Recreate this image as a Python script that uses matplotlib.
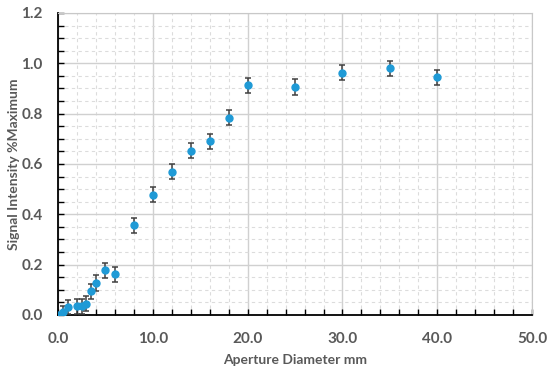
import matplotlib
matplotlib.use("Agg")
import matplotlib.pyplot as plt
from matplotlib.ticker import MultipleLocator, FormatStrFormatter

aperture_mm = [0, 0.5, 1.0, 2.0, 2.5, 3.0, 3.5, 4.0, 5.0, 6.0, 8.0, 10.0, 12.0, 14.0, 16.0, 18.0, 20.0, 25.0, 30.0, 35.0, 40.0]
intensity = [0.0, 0.01, 0.032, 0.035, 0.035, 0.044, 0.095, 0.127, 0.178, 0.162, 0.357, 0.477, 0.570, 0.652, 0.690, 0.783, 0.913, 0.906, 0.963, 0.980, 0.944]
error = [0.0, 0.025, 0.028, 0.03, 0.03, 0.03, 0.03, 0.03, 0.03, 0.03, 0.03, 0.03, 0.03, 0.03, 0.03, 0.03, 0.03, 0.03, 0.03, 0.03, 0.03]

plt.rcParams['font.family'] = ['Lato', 'DejaVu Sans']
txt = '#595959'

fig = plt.figure(figsize=(5.5, 3.71), dpi=100)
ax = fig.add_axes([0.1055, 0.151, 0.862, 0.814])

ax.errorbar(aperture_mm, intensity, yerr=error, fmt='o', color='#1f9ad6',
            markersize=5, ecolor='#404040', elinewidth=1.1, capsize=2, capthick=1.1, zorder=3)

ax.set_xlim(0, 50)
ax.set_ylim(0, 1.2)
ax.xaxis.set_major_locator(MultipleLocator(10))
ax.xaxis.set_minor_locator(MultipleLocator(2))
ax.yaxis.set_major_locator(MultipleLocator(0.2))
ax.yaxis.set_minor_locator(MultipleLocator(0.05))
ax.xaxis.set_major_formatter(FormatStrFormatter('%.1f'))
ax.yaxis.set_major_formatter(FormatStrFormatter('%.1f'))

ax.grid(which='major', color='#d0d0d0', linewidth=1.0, linestyle='-')
ax.grid(which='minor', color='#dcdcdc', linewidth=0.8, linestyle=(0, (3, 3)))
ax.set_axisbelow(True)

ax.tick_params(which='both', direction='in', colors='#000000', labelcolor=txt, labelsize=11)
ax.tick_params(which='major', length=4, width=1)
ax.tick_params(which='minor', length=4, width=1)
ax.tick_params(axis='x', pad=12)
ax.tick_params(axis='y', pad=11)
for lab in ax.get_xticklabels() + ax.get_yticklabels():
    lab.set_fontweight('bold')

ax.spines['left'].set_color('#000000')
ax.spines['bottom'].set_color('#000000')
ax.spines['left'].set_linewidth(1.3)
ax.spines['bottom'].set_linewidth(1.3)
ax.spines['top'].set_color('#c8c8c8')
ax.spines['right'].set_color('#c8c8c8')

ax.set_xlabel('Aperture Diameter mm', fontsize=10, fontweight='bold', color=txt, labelpad=6)
ax.set_ylabel('Signal Intensity %Maximum', fontsize=10, fontweight='bold', color=txt, labelpad=1)

fig.savefig('out.png', dpi=100)
